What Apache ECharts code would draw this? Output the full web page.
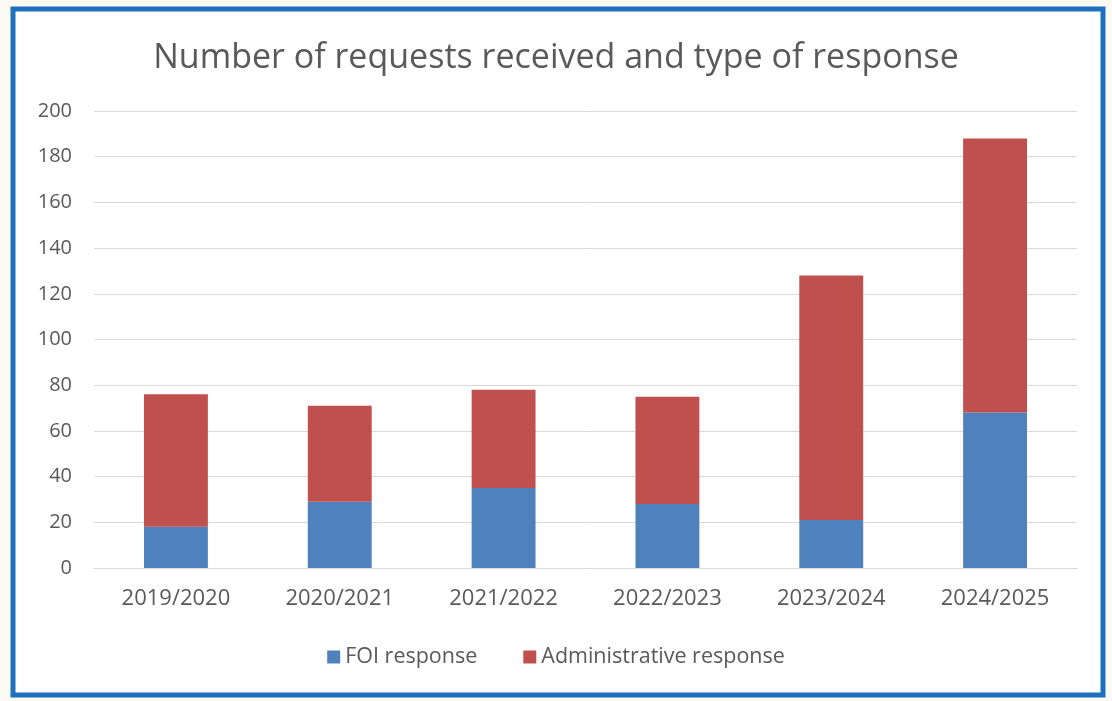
<!DOCTYPE html>
<html>
<head>
<meta charset="utf-8">
<script src="https://cdn.jsdelivr.net/npm/echarts@6/dist/echarts.min.js"></script>
<style>
html,body{margin:0;padding:0;background:#fbfaf3;}
#chart{width:1112px;height:701px;}
</style>
</head>
<body>
<div id="chart"></div>
<script>
const categories = ['2019/2020','2020/2021','2021/2022','2022/2023','2023/2024','2024/2025'];
const foiResponse = [18, 29, 35, 28, 21, 68];
const adminResponse = [58, 42, 43, 47, 107, 120];
const yTicks = {min: 0, max: 200, interval: 20};

const chart = echarts.init(document.getElementById('chart'));
const font = '"Open Sans", sans-serif';
chart.setOption({
  backgroundColor: 'transparent',
  animation: false,
  graphic: [{
    type: 'rect', z: -10,
    shape: {x: 13, y: 9, width: 1090, height: 686},
    style: {fill: '#ffffff', stroke: '#1f6fbf', lineWidth: 5}
  }],
  title: {
    text: 'Number of requests received and type of response',
    left: 'center', top: 36,
    textStyle: {fontFamily: font, fontSize: 34, fontWeight: 'normal', color: '#595959'}
  },
  legend: {
    bottom: 28, left: 'center',
    itemWidth: 13, itemHeight: 13, itemGap: 46,
    icon: 'rect',
    textStyle: {fontFamily: font, fontSize: 21.5, color: '#595959', padding: [0, 0, 0, 0]},
    data: ['FOI response', 'Administrative response']
  },
  grid: {left: 94, right: 35, top: 111, bottom: 133},
  xAxis: {
    type: 'category', data: categories,
    axisLine: {lineStyle: {color: '#d9d9d9'}},
    axisTick: {show: false},
    axisLabel: {fontFamily: font, fontSize: 22, color: '#595959', margin: 20}
  },
  yAxis: {
    type: 'value', min: yTicks.min, max: yTicks.max, interval: yTicks.interval,
    axisLine: {show: false}, axisTick: {show: false},
    splitLine: {lineStyle: {color: '#d9d9d9', width: 1}},
    axisLabel: {fontFamily: font, fontSize: 20, color: '#595959', margin: 22}
  },
  series: [
    {name: 'FOI response', type: 'bar', stack: 'total', data: foiResponse,
     barWidth: '39%', itemStyle: {color: '#4f81bd'}},
    {name: 'Administrative response', type: 'bar', stack: 'total', data: adminResponse,
     barWidth: '39%', itemStyle: {color: '#c0504d'}}
  ]
});
</script>
</body>
</html>
